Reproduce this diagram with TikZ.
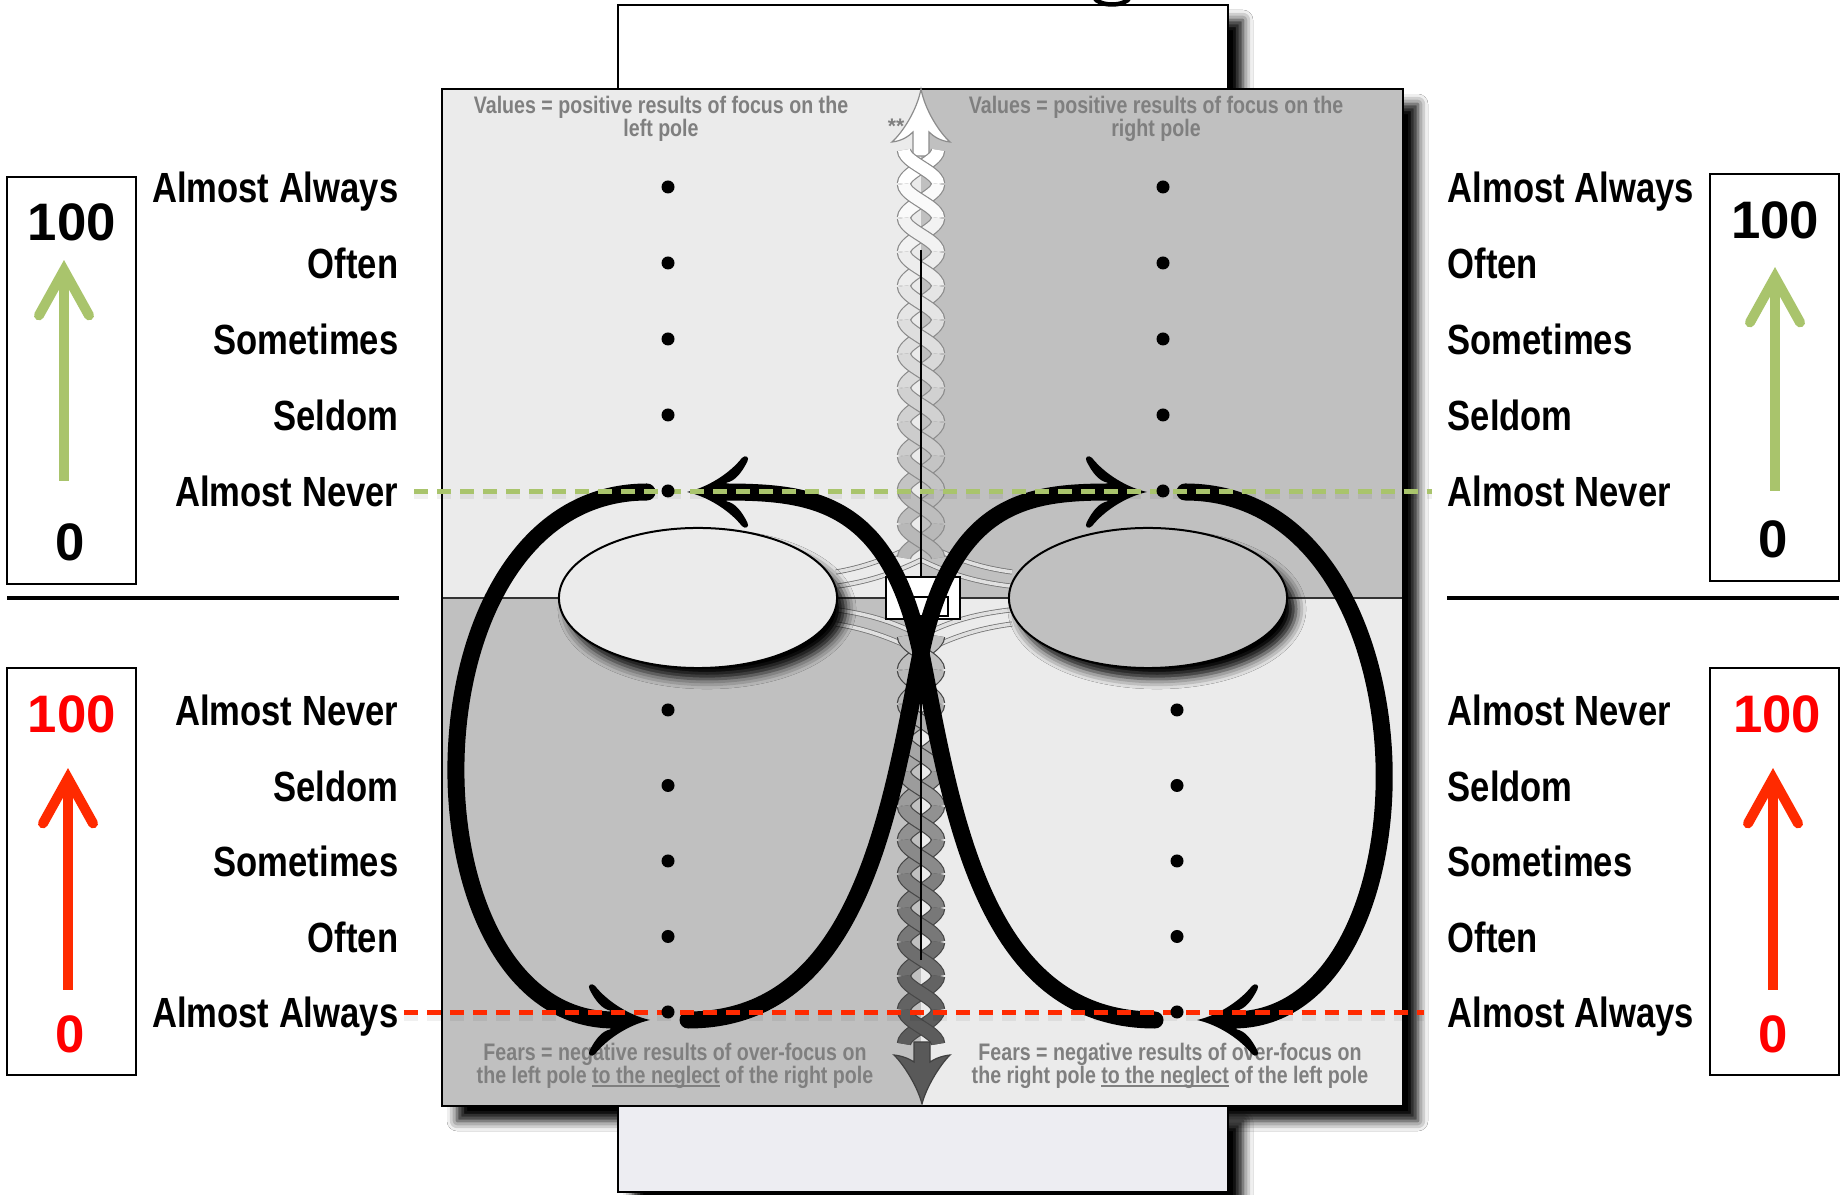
\documentclass[tikz,border=0pt]{standalone}
\usepackage{fontspec}
\setmainfont{Liberation Sans}
\newfontfamily\narrowsf[FakeStretch=0.82]{Liberation Sans}
\usetikzlibrary{arrows.meta,shapes.geometric,shadows.blur}

\definecolor{paleq}{HTML}{EBEBEB}
\definecolor{darkq}{HTML}{C0C0C0}
\definecolor{notegray}{HTML}{7F7F7F}
\definecolor{scalegreen}{HTML}{A9C46C}
\definecolor{scalered}{HTML}{FF2A00}
\definecolor{lavender}{HTML}{EDEDF2}

% underline that sits close to the text
\newcommand\grayul[1]{\setbox0\hbox{#1}\rlap{\rule[-0.9pt]{\wd0}{0.55pt}}\box0\relax}

\tikzset{
    rung/.style ={font=\narrowsf\bfseries\fontsize{12}{13}\selectfont, inner sep=0pt, text height=8.6pt, text depth=0.2pt},
    num/.style ={font=\bfseries\fontsize{15}{16}\selectfont, inner sep=0pt, text height=11pt, text depth=0pt},
    note/.style ={font=\narrowsf\bfseries\fontsize{6.8}{6.6}\selectfont, text=notegray, align=center, inner sep=0pt},
    dot/.style ={circle, fill=black, inner sep=0pt, minimum size=0.13cm},
    pole/.style ={ellipse, draw, line width=0.02cm, minimum width=2.78cm, minimum height=1.4cm,
        blur shadow={shadow xshift=0.09cm, shadow yshift=-0.11cm, shadow blur radius=0.1cm, shadow opacity=100}},
    frame/.style ={draw=black, line width=0.025cm,
        blur shadow={shadow xshift=0.15cm, shadow yshift=-0.15cm, shadow blur radius=0.1cm, shadow opacity=100}},
    strand/.style ={draw=black!#1, line width=0.012cm, double distance=0.12cm},
    thread/.style ={draw=black!55, line width=0.008cm, double=black!12, double distance=0.035cm},
    loopline/.style ={line width=0.17cm, line cap=round},
    gdash/.style ={scalegreen, line width=0.05cm, dash pattern=on 0.14cm off 0.09cm},
    rdash/.style ={scalered, line width=0.05cm, dash pattern=on 0.14cm off 0.09cm},
    dashshade/.style ={black, opacity=0.06, line width=0.07cm, dash pattern=on 0.14cm off 0.09cm,
        transform canvas={yshift=-0.04cm}},
    upg/.style ={scalegreen, line width=0.1cm, -{Straight Barb[length=0.45cm, width=0.5cm, line cap=round]}},
    upr/.style ={scalered, line width=0.1cm, -{Straight Barb[length=0.45cm, width=0.5cm, line cap=round]}},
    barbhead/.pic ={
        \fill[scale=1.1] (0,0) .. controls (-18,-4) and (-38,-16) .. (-50,-31)
            .. controls (-53,-34) and (-57,-32) .. (-55,-28)
            .. controls (-50,-18) and (-44,-10) .. (-36,-8.5) -- (-36,8.5)
            .. controls (-44,10) and (-50,18) .. (-55,28)
            .. controls (-57,32) and (-53,34) .. (-50,31)
            .. controls (-38,16) and (-18,4) .. (0,0) -- cycle;}
}

\begin{document}
\begin{tikzpicture}[x=0.01cm, y=-0.01cm]
\useasboundingbox (0,0) rectangle (1845,1195);
\fill[white] (0,0) rectangle (1845,1195);

% tab behind the board
\filldraw[frame, fill=white] (618,5) rectangle (1228,89);
\draw[line width=0.045cm] (1094,-3) .. controls (1098,7) and (1126,7) .. (1130,-3);

% the board, four quadrants
\filldraw[frame, fill=paleq] (442,89) rectangle (1403,1106);
\fill[darkq] (921,89) rectangle (1403,598);
\fill[darkq] (442,598) rectangle (921,1106);
\draw[line width=0.012cm, black!80] (442,598) -- (1403,598);
\draw[line width=0.025cm] (442,89) rectangle (1403,1106);
\filldraw[frame, fill=lavender] (618,1106) rectangle (1228,1192);

% captions of the quadrants
\node[note] (valL) at (661,119) {Values = positive results of focus on the\\left pole};
\node[note] (valR) at (1156,119) {Values = positive results of focus on the\\right pole};
\node[note] (fearL) at (675,1066) {Fears = negative results of over-focus on\\the left pole \grayul{to the neglect} of the right pole};
\node[note] (fearR) at (1170,1066) {Fears = negative results of over-focus on\\the right pole \grayul{to the neglect} of the left pole};
\node[note, font=\bfseries\fontsize{6}{6}\selectfont] (stars) at (896,126) {**};

% threads from the rope to the poles
\draw[thread] (915,545) .. controls (885,560) and (860,568) .. (836,572);
\draw[thread] (921,560) .. controls (890,575) and (865,582) .. (838,586);
\draw[thread] (927,545) .. controls (957,560) and (982,568) .. (1012,572);
\draw[thread] (921,560) .. controls (952,575) and (977,582) .. (1010,586);
\draw[thread] (921,636) .. controls (890,620) and (865,614) .. (838,610);
\draw[thread] (915,650) .. controls (885,635) and (860,628) .. (836,624);
\draw[thread] (921,636) .. controls (952,620) and (977,614) .. (1010,610);
\draw[thread] (927,650) .. controls (957,635) and (982,628) .. (1012,624);

% twisted rope, white above and dark below
\filldraw[fill=white, draw=black!45, line width=0.012cm] (921,89)
    .. controls (917,110) and (903,132) .. (892,142)
    .. controls (902,141) and (909,136) .. (913,132) -- (913,156) -- (929,156) -- (929,132)
    .. controls (933,136) and (940,141) .. (950,142)
    .. controls (939,132) and (925,110) .. (921,89) -- cycle;
\foreach \k in {0,...,11}{
    \pgfmathsetmacro\ya{150+34*\k}
    \pgfmathsetmacro\yb{\ya+34}
    \pgfmathsetmacro\su{ifthenelse(isodd(\k),-1,1)}
    \pgfmathsetmacro\so{-1*\su}
    \pgfmathtruncatemacro\tone{2.6*\k}
    \foreach \sg in {\su,\so}
        \draw[strand=45, double=black!\tone] plot[variable=\t, domain=\ya:\yb, samples=12, smooth]
            ({921+\sg*17*cos((\t-150)*5.294)}, \t);
}
\foreach \k in {0,...,11}{
    \pgfmathsetmacro\ya{636+34*\k}
    \pgfmathsetmacro\yb{\ya+34}
    \pgfmathsetmacro\su{ifthenelse(isodd(\k),-1,1)}
    \pgfmathsetmacro\so{-1*\su}
    \pgfmathtruncatemacro\tone{25+3.6*\k}
    \foreach \sg in {\su,\so}
        \draw[strand=72, double=black!\tone] plot[variable=\t, domain=\ya:\yb, samples=12, smooth]
            ({921+\sg*17*cos((\t-636)*5.294)}, \t);
}
\filldraw[fill=black!65, draw=black!75, line width=0.012cm] (922,1104)
    .. controls (918,1088) and (905,1066) .. (894,1055)
    .. controls (904,1056) and (911,1060) .. (914,1062) -- (914,1042) -- (930,1042) -- (930,1062)
    .. controls (933,1060) and (940,1056) .. (950,1055)
    .. controls (939,1066) and (926,1088) .. (922,1104) -- cycle;
\draw[line width=0.012cm] (921,250) -- (921,577);
\draw[line width=0.012cm] (921,619) -- (921,960);

% small box where the rope meets the poles
\node[draw, fill=white, line width=0.02cm, minimum width=0.74cm, minimum height=0.42cm] (hub) at (923,598) {};
\draw[line width=0.015cm] (908,597) rectangle (948,616);

% the two poles
\node[pole, fill=paleq] (poleL) at (698,598) {};
\node[pole, fill=darkq] (poleR) at (1148,598) {};

% figure eight, four pieces between the arrow heads
\draw[loopline] (647,492) .. controls (398,492) and (398,1020) .. (614,1020);
\draw[loopline] (688,1020) .. controls (860,1020) and (890,810) .. (921,653)
    .. controls (953,500) and (1030,492) .. (1111,492);
\draw[loopline] (1185,492) .. controls (1442,492) and (1442,1020) .. (1233,1020);
\draw[loopline] (1155,1020) .. controls (982,1020) and (952,810) .. (921,653)
    .. controls (889,500) and (812,492) .. (723,492);
\pic at (650,1020) {barbhead};
\pic at (1147,492) {barbhead};
\pic[xscale=-1] at (1197,1020) {barbhead};
\pic[xscale=-1] at (687,492) {barbhead};

% scale words beside the board
\foreach \lbl [count=\i] in {Almost Always, Often, Sometimes, Seldom, Almost Never}{
    \pgfmathsetmacro\y{188+76*(\i-1)}
    \node[rung, anchor=east] (tl\i) at (399,\y) {\lbl};
    \node[rung, anchor=west] (tr\i) at (1447,\y) {\lbl};
}
\foreach \lbl [count=\i] in {Almost Never, Seldom, Sometimes, Often, Almost Always}{
    \pgfmathsetmacro\y{711+75.5*(\i-1)}
    \node[rung, anchor=east] (bl\i) at (399,\y) {\lbl};
    \node[rung, anchor=west] (br\i) at (1447,\y) {\lbl};
}

% threshold lines
\draw[dashshade, shorten <=0.15cm, shorten >=0.15cm] (tl5.east) -- (tr5.west);
\draw[gdash, shorten <=0.15cm, shorten >=0.15cm] (tl5.east) -- (tr5.west);
\draw[dashshade, shorten <=0.05cm, shorten >=0.23cm] (bl5.east) -- (br5.west);
\draw[rdash, shorten <=0.05cm, shorten >=0.23cm] (bl5.east) -- (br5.west);

% dots on the scales
\foreach \i in {1,...,5}{
    \pgfmathsetmacro\y{187+76*(\i-1)}
    \node[dot] (dtl\i) at (668,\y) {};
    \node[dot] (dtr\i) at (1163,\y) {};
    \pgfmathsetmacro\y{710+75.5*(\i-1)}
    \node[dot] (dbl\i) at (668,\y) {};
    \node[dot] (dbr\i) at (1177,\y) {};
}

% score boxes
\draw[line width=0.015cm] (7,177) rectangle (136,584);
\draw[line width=0.015cm] (1710,174) rectangle (1839,581);
\draw[line width=0.015cm] (7,668) rectangle (136,1075);
\draw[line width=0.015cm] (1710,668) rectangle (1839,1075);
\node[num] (hTL) at (72,221) {100};
\node[num] (zTL) at (70,541) {0};
\node[num] (hTR) at (1775,219) {100};
\node[num] (zTR) at (1773,538) {0};
\node[num, text=red] (hBL) at (72,713) {100};
\node[num, text=red] (zBL) at (70,1033) {0};
\node[num, text=red] (hBR) at (1777,713) {100};
\node[num, text=red] (zBR) at (1773,1033) {0};
\draw[upg, shorten <=0.4cm, shorten >=0.19cm] ([xshift=-0.06cm]zTL.north) -- ([xshift=-0.06cm]zTL.north |- hTL.south);
\draw[upg, shorten <=0.27cm, shorten >=0.28cm] ([xshift=0.02cm]zTR.north) -- ([xshift=0.02cm]zTR.north |- hTR.south);
\draw[upr, shorten <=0.23cm, shorten >=0.35cm] ([xshift=-0.02cm]zBL.north) -- ([xshift=-0.02cm]zBL.north |- hBL.south);
\draw[upr, shorten <=0.23cm, shorten >=0.35cm] (zBR.north) -- (zBR.north |- hBR.south);

% rules between the two scales
\draw[line width=0.04cm] (7,598) -- (399,598);
\draw[line width=0.04cm] (1447,598) -- (1839,598);
\end{tikzpicture}
\end{document}
